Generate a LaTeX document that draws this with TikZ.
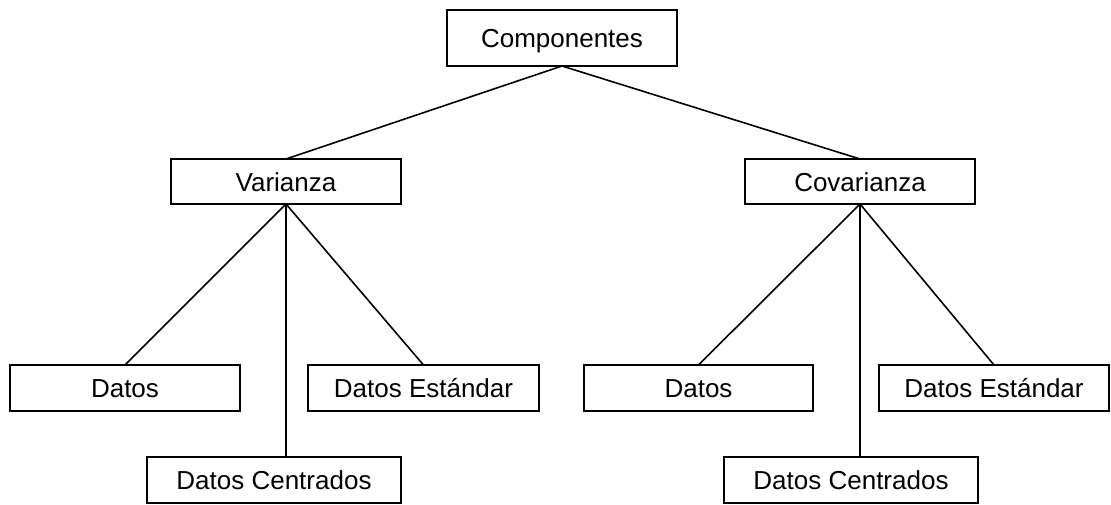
\documentclass[tikz,border=0pt]{standalone}
\usepackage{fontspec}
\setmainfont{Liberation Sans}
\begin{document}
\begin{tikzpicture}[x=1pt,y=-1pt,
  box/.style={draw=black,line width=1.6pt,inner sep=0pt,outer sep=0pt,
    font=\fontsize{26}{30}\selectfont,text height=19pt,text depth=0pt},
  link/.style={draw=black,line width=1.6pt}]
\useasboundingbox (0,0) rectangle (1111,504);
% top
\node[box,minimum width=230pt,minimum height=56pt] (comp) at (562,38) {Componentes};
% second level
\node[box,minimum width=230pt,minimum height=45pt] (var) at (286,181.5) {Varianza};
\node[box,minimum width=230pt,minimum height=45pt] (cov) at (860,181.5) {Covarianza};
% left leaves
\node[box,minimum width=230pt,minimum height=46pt] (dl) at (125,388) {Datos};
\node[box,minimum width=231pt,minimum height=46pt] (el) at (423.5,388) {Datos Estándar};
\node[box,minimum width=254pt,minimum height=46pt] (cl) at (274,480) {Datos Centrados};
% right leaves
\node[box,minimum width=229pt,minimum height=46pt] (dr) at (698.5,388) {Datos};
\node[box,minimum width=230pt,minimum height=46pt] (er) at (994,388) {Datos Estándar};
\node[box,minimum width=254pt,minimum height=46pt] (cr) at (851,480) {Datos Centrados};
% connectors
\draw[link] (comp.south) -- (var.north);
\draw[link] (comp.south) -- (cov.north);
\draw[link] (var.south) -- (dl.north);
\draw[link] (var.south) -- (el.north);
\draw[link] (var.south) -- (var.south |- cl.north);
\draw[link] (cov.south) -- (dr.north);
\draw[link] (cov.south) -- (er.north);
\draw[link] (cov.south) -- (cov.south |- cr.north);
\end{tikzpicture}
\end{document}
